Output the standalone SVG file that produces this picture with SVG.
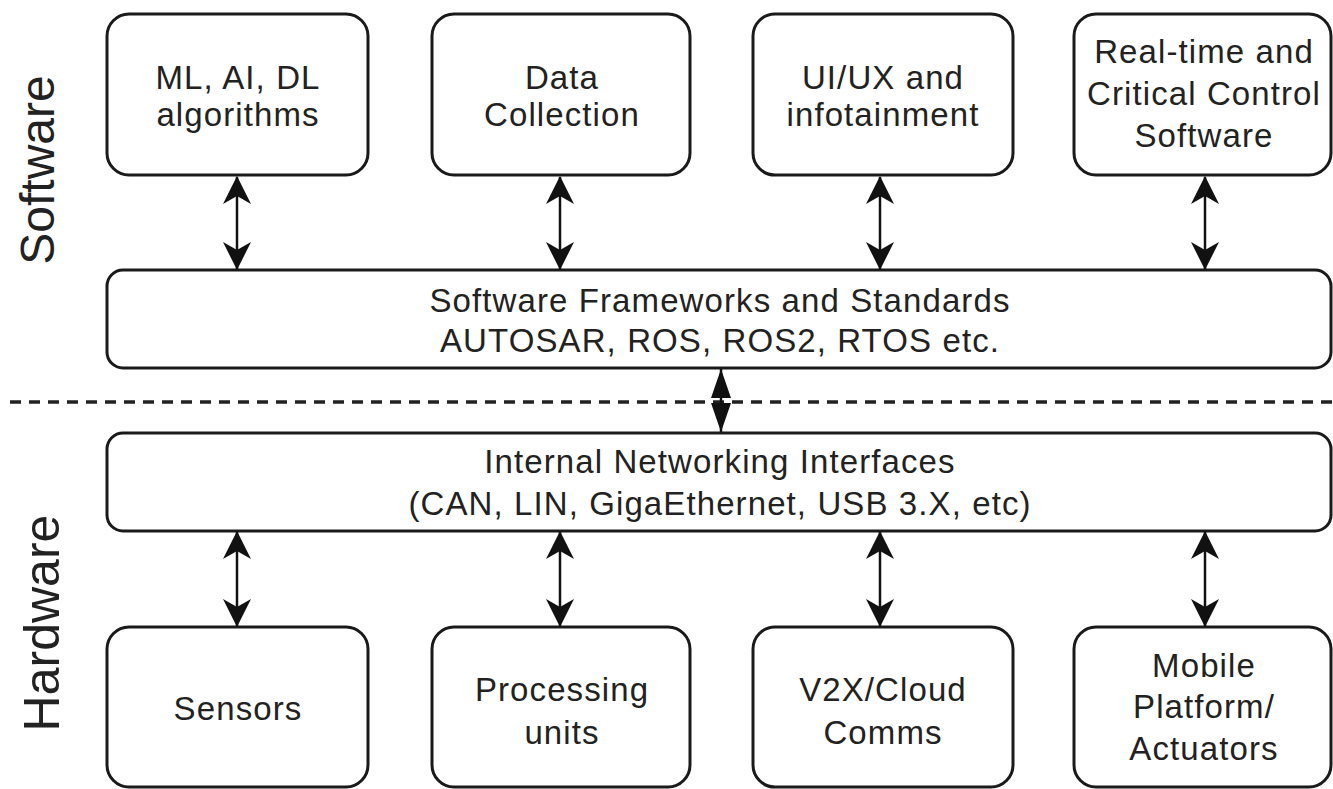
<svg xmlns="http://www.w3.org/2000/svg" width="1333" height="789" viewBox="0 0 1333 789">
<style>
.box{fill:#fff;stroke:#1a1a1a;stroke-width:3}
.t{font-family:"Liberation Sans",Arial,sans-serif;font-size:33px;letter-spacing:1.1px;fill:#222;text-anchor:middle}
.side{font-family:"Liberation Sans",Arial,sans-serif;font-size:48px;fill:#222;text-anchor:middle}
.conn{stroke:#111;stroke-width:2.5;fill:none}
</style>
<defs>
<marker id="ah" viewBox="0 0 28 28" refX="27" refY="14" markerWidth="28" markerHeight="28" markerUnits="userSpaceOnUse" orient="auto-start-reverse">
<path d="M0,0 L28,14 L0,28 L8,14 z" fill="#111"/>
</marker>
</defs>
<rect width="1333" height="789" fill="#fff"/>
<text class="side" transform="translate(54,170) rotate(-90)">Software</text>
<text class="side" style="font-size:50px" transform="translate(59,623) rotate(-90)">Hardware</text>
<line x1="10" y1="402" x2="1333" y2="402" stroke="#222" stroke-width="3.5" stroke-dasharray="11 8"/>
<g id="n1"><rect class="box" x="107" y="14" width="261" height="161" rx="22"/><text class="t" x="238" y="89">ML, AI, DL</text><text class="t" x="238" y="126">algorithms</text></g>
<g id="n2"><rect class="box" x="432" y="14" width="258" height="161" rx="22"/><text class="t" x="562" y="89">Data</text><text class="t" x="562" y="126">Collection</text></g>
<g id="n3"><rect class="box" x="753" y="14" width="260" height="161" rx="22"/><text class="t" x="883" y="89">UI/UX and</text><text class="t" x="883" y="126">infotainment</text></g>
<g id="n4"><rect class="box" x="1074" y="14" width="257" height="161" rx="22"/><text class="t" x="1204" y="63">Real-time and</text><text class="t" x="1204" y="105">Critical Control</text><text class="t" x="1204" y="147">Software</text></g>
<g id="fw"><rect class="box" x="107" y="270" width="1224" height="98" rx="16"/><text class="t" x="720" y="312">Software Frameworks and Standards</text><text class="t" x="720" y="352">AUTOSAR, ROS, ROS2, RTOS etc.</text></g>
<g id="net"><rect class="box" x="107" y="433" width="1224" height="98" rx="16"/><text class="t" x="720" y="473">Internal Networking Interfaces</text><text class="t" x="720" y="515">(CAN, LIN, GigaEthernet, USB 3.X, etc)</text></g>
<g id="h1"><rect class="box" x="107" y="627" width="261" height="160" rx="22"/><text class="t" x="238" y="720">Sensors</text></g>
<g id="h2"><rect class="box" x="432" y="627" width="258" height="160" rx="22"/><text class="t" x="562" y="701">Processing</text><text class="t" x="562" y="744">units</text></g>
<g id="h3"><rect class="box" x="753" y="627" width="260" height="160" rx="22"/><text class="t" x="883" y="701">V2X/Cloud</text><text class="t" x="883" y="744">Comms</text></g>
<g id="h4"><rect class="box" x="1074" y="627" width="257" height="160" rx="22"/><text class="t" x="1204" y="677">Mobile</text><text class="t" x="1204" y="718">Platform/</text><text class="t" x="1204" y="760">Actuators</text></g>
<g id="connectors">
<line class="conn" x1="237" y1="177" x2="237" y2="269" marker-start="url(#ah)" marker-end="url(#ah)"/>
<line class="conn" x1="560" y1="177" x2="560" y2="269" marker-start="url(#ah)" marker-end="url(#ah)"/>
<line class="conn" x1="880" y1="177" x2="880" y2="269" marker-start="url(#ah)" marker-end="url(#ah)"/>
<line class="conn" x1="1205" y1="177" x2="1205" y2="269" marker-start="url(#ah)" marker-end="url(#ah)"/>
<line class="conn" x1="237" y1="532" x2="237" y2="626" marker-start="url(#ah)" marker-end="url(#ah)"/>
<line class="conn" x1="560" y1="532" x2="560" y2="626" marker-start="url(#ah)" marker-end="url(#ah)"/>
<line class="conn" x1="880" y1="532" x2="880" y2="626" marker-start="url(#ah)" marker-end="url(#ah)"/>
<line class="conn" x1="1205" y1="532" x2="1205" y2="626" marker-start="url(#ah)" marker-end="url(#ah)"/>
<line class="conn" x1="721" y1="369" x2="721" y2="432"/>
<path d="M721,369 L731,398 L711,398 z M721,432 L731,403 L711,403 z" fill="#111"/>
</g>
</svg>
